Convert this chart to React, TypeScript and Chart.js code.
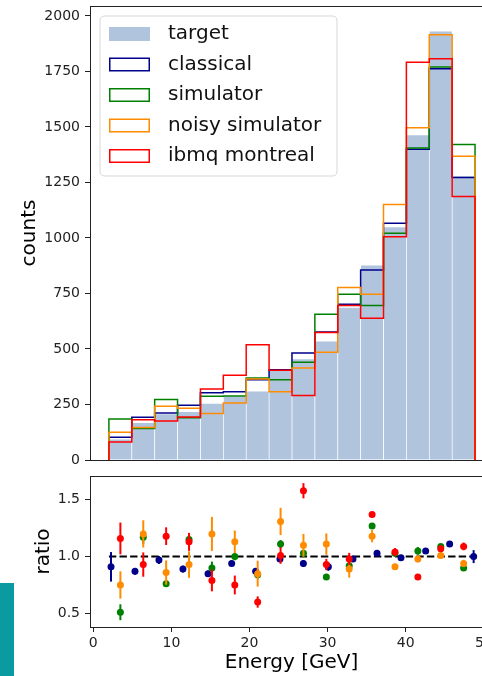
import React, { useEffect, useRef } from "react";
import { Chart, registerables } from "chart.js";

Chart.register(...registerables);

const FONT = "'DejaVu Sans', 'Liberation Sans', sans-serif";

// ---------- data ----------
const binEdges = [2.0, 4.93, 7.86, 10.79, 13.72, 16.65, 19.58, 22.51, 25.44, 28.37, 31.3, 34.23, 37.16, 40.09, 43.02, 45.95, 48.88];
const binCenters = [3.47, 6.4, 9.33, 12.26, 15.19, 18.12, 21.05, 23.98, 26.91, 29.84, 32.77, 35.7, 38.63, 41.56, 44.49, 47.42];

const seriesNames = ["target", "classical", "simulator", "noisy simulator", "ibmq montreal"];

const targetCounts = [94, 168, 208, 218, 255, 288, 310, 403, 455, 535, 688, 878, 1050, 1465, 1932, 1280];
const classicalCounts = [103, 193, 212, 247, 303, 307, 362, 407, 482, 577, 702, 856, 1066, 1400, 1762, 1273];
const simulatorCounts = [185, 142, 272, 190, 287, 288, 369, 362, 440, 656, 747, 696, 1021, 1405, 1770, 1421];
const noisyCounts = [125, 146, 242, 233, 210, 257, 365, 307, 414, 485, 777, 747, 1151, 1497, 1915, 1368];
const ibmqCounts = [81, 181, 176, 194, 320, 382, 519, 404, 290, 574, 696, 639, 1006, 1792, 1807, 1187];

const classicalX = [2.27, 5.34, 8.41, 11.48, 14.69, 17.72, 20.79, 23.9, 26.9, 30.1, 33.25, 36.33, 39.4, 42.56, 45.63, 48.7];
const classicalRatio = [0.91, 0.87, 0.97, 0.89, 0.85, 0.94, 0.87, 0.98, 0.94, 0.91, 0.98, 1.03, 0.99, 1.05, 1.11, 1.0];
const classicalErr = [0.13, 0.03, 0.035, 0.03, 0.026, 0.026, 0.03, 0.026, 0.03, 0.035, 0.026, 0.026, 0.02, 0.02, 0.02, 0.057];

const simulatorRatio = [0.51, 1.17, 0.76, 1.15, 0.9, 1.0, 0.84, 1.11, 1.03, 0.82, 0.92, 1.27, 1.03, 1.05, 1.09, 0.9];
const simulatorErr = [0.07, 0.058, 0.026, 0.04, 0.056, 0.032, 0.034, 0.035, 0.03, 0.026, 0.032, 0.023, 0.03, 0.034, 0.018, 0.018];

const noisyRatio = [0.75, 1.2, 0.86, 0.93, 1.2, 1.13, 0.85, 1.31, 1.1, 1.11, 0.89, 1.18, 0.91, 0.98, 1.01, 0.94];
const noisyErr = [0.12, 0.12, 0.107, 0.117, 0.15, 0.1, 0.114, 0.12, 0.1, 0.094, 0.075, 0.054, 0.026, 0.03, 0.025, 0.032];

const ibmqRatio = [1.16, 0.93, 1.18, 1.13, 0.79, 0.75, 0.6, 1.01, 1.58, 0.93, 0.98, 1.37, 1.04, 0.82, 1.07, 1.09];
const ibmqErr = [0.14, 0.107, 0.078, 0.079, 0.096, 0.083, 0.05, 0.073, 0.067, 0.05, 0.053, 0.02, 0.035, 0.023, 0.03, 0.034];

const countTicks = [0, 250, 500, 750, 1000, 1250, 1500, 1750, 2000];
const ratioTicks = [0.5, 1.0, 1.5];
const energyTicks = [0, 10, 20, 30, 40, 50];

// ---------- styles ----------
const C_TARGET = "#b0c4de";
const C_CLASSICAL = "#00008b";
const C_SIM = "#008000";
const C_NOISY = "#ff8c00";
const C_IBMQ = "#ff0000";
const legendColors = [C_TARGET, C_CLASSICAL, C_SIM, C_NOISY, C_IBMQ];

const X_MIN = -0.42;
const X_MAX = 51.18;
const COUNT_MAX = 2045;
const RATIO_MIN = 0.38;
const RATIO_MAX = 1.71;
const AXIS_COLOR = "#222";

const stepOutline = (vals: number[]) => {
  const pts: { x: number; y: number }[] = [{ x: binEdges[0], y: 0 }];
  vals.forEach((v, i) => {
    pts.push({ x: binEdges[i], y: v });
    pts.push({ x: binEdges[i + 1], y: v });
  });
  pts.push({ x: binEdges[binEdges.length - 1], y: 0 });
  return pts;
};

const framePlugin = {
  id: "frame",
  afterDatasetsDraw(chart: any) {
    const { ctx, chartArea: a } = chart;
    ctx.save();
    ctx.strokeStyle = AXIS_COLOR;
    ctx.lineWidth = 1;
    ctx.strokeRect(Math.round(a.left) + 0.5, Math.round(a.top) + 0.5, Math.round(a.right - a.left), Math.round(a.bottom - a.top));
    ctx.restore();
  },
};

const legendPlugin = {
  id: "mplLegend",
  afterDraw(chart: any) {
    const { ctx, chartArea: a } = chart;
    const bx = a.left + 10;
    const by = a.top + 10;
    const bw = 237;
    const bh = 160;
    const r = 5;
    ctx.save();
    ctx.beginPath();
    ctx.moveTo(bx + r, by);
    ctx.lineTo(bx + bw - r, by);
    ctx.quadraticCurveTo(bx + bw, by, bx + bw, by + r);
    ctx.lineTo(bx + bw, by + bh - r);
    ctx.quadraticCurveTo(bx + bw, by + bh, bx + bw - r, by + bh);
    ctx.lineTo(bx + r, by + bh);
    ctx.quadraticCurveTo(bx, by + bh, bx, by + bh - r);
    ctx.lineTo(bx, by + r);
    ctx.quadraticCurveTo(bx, by, bx + r, by);
    ctx.closePath();
    ctx.fillStyle = "rgba(255,255,255,0.8)";
    ctx.fill();
    ctx.strokeStyle = "rgba(204,204,204,0.8)";
    ctx.lineWidth = 1;
    ctx.stroke();

    ctx.font = `20px ${FONT}`;
    ctx.textBaseline = "middle";
    ctx.textAlign = "left";
    seriesNames.forEach((name, i) => {
      const cy = by + 18 + i * 30.5;
      const px = bx + 9;
      if (i === 0) {
        ctx.fillStyle = legendColors[0];
        ctx.fillRect(px, cy - 7, 41, 14);
      } else {
        ctx.strokeStyle = legendColors[i];
        ctx.lineWidth = 1.5;
        ctx.strokeRect(px + 0.75, cy - 6.25, 39.5, 12.5);
      }
      ctx.fillStyle = "#111";
      ctx.fillText(name, bx + 68, cy);
    });
    ctx.restore();
  },
};

const errorBarPlugin = {
  id: "errorBars",
  beforeDatasetDraw(chart: any, args: any) {
    const ds: any = chart.data.datasets[args.index];
    if (!ds.errorBars) return;
    const xs = chart.scales.x;
    const ys = chart.scales.y;
    const ctx = chart.ctx;
    ctx.save();
    ctx.strokeStyle = ds.pointBackgroundColor;
    ctx.lineWidth = 2;
    ds.data.forEach((p: any, i: number) => {
      const e = ds.errorBars[i];
      const x = xs.getPixelForValue(p.x);
      ctx.beginPath();
      ctx.moveTo(x, ys.getPixelForValue(p.y - e));
      ctx.lineTo(x, ys.getPixelForValue(p.y + e));
      ctx.stroke();
    });
    ctx.restore();
  },
};

const tickFont = { family: FONT, size: 14 };
const titleFont = { family: FONT, size: 20 };

export default function App() {
  const topRef = useRef<HTMLCanvasElement>(null);
  const botRef = useRef<HTMLCanvasElement>(null);

  useEffect(() => {
    const stepDs = (label: string, vals: number[], color: string, order: number) => ({
      type: "line",
      label,
      data: stepOutline(vals),
      borderColor: color,
      backgroundColor: color,
      borderWidth: 1.5,
      pointRadius: 0,
      fill: false,
      tension: 0,
      order,
    });

    const top = new Chart(topRef.current as HTMLCanvasElement, {
      type: "bar",
      data: {
        datasets: [
          {
            type: "bar",
            label: seriesNames[0],
            data: binCenters.map((x, i) => ({ x, y: targetCounts[i] })),
            backgroundColor: C_TARGET,
            borderColor: "#ffffff",
            borderWidth: { left: 0.7, right: 0.7, top: 0.7, bottom: 0 },
            barPercentage: 1,
            categoryPercentage: 1,
            order: 10,
          },
          stepDs(seriesNames[1], classicalCounts, C_CLASSICAL, 4),
          stepDs(seriesNames[2], simulatorCounts, C_SIM, 3),
          stepDs(seriesNames[3], noisyCounts, C_NOISY, 2),
          stepDs(seriesNames[4], ibmqCounts, C_IBMQ, 1),
        ] as any,
      },
      options: {
        responsive: false,
        animation: false,
        events: [],
        layout: { padding: { top: 36, bottom: 10, left: 0, right: 7 } },
        plugins: { legend: { display: false }, tooltip: { enabled: false } },
        scales: {
          x: { type: "linear", min: X_MIN, max: X_MAX, display: false, offset: false },
          y: {
            type: "linear",
            min: 0,
            max: COUNT_MAX,
            afterBuildTicks: (s: any) => {
              s.ticks = countTicks.map((v) => ({ value: v }));
            },
            afterFit: (s: any) => {
              s.width = 90;
              s.paddingTop = 0;
              s.paddingBottom = 0;
            },
            ticks: { font: tickFont, color: AXIS_COLOR, padding: 5, autoSkip: false, callback: (v: any) => String(v) },
            grid: { display: true, drawOnChartArea: false, drawTicks: true, tickLength: 5, tickColor: AXIS_COLOR, tickWidth: 1 },
            border: { display: false },
            title: { display: true, text: "counts", font: titleFont, color: "#000", padding: { top: 17.5, bottom: 0 } },
          },
        },
      } as any,
      plugins: [framePlugin, legendPlugin],
    });

    const ratioDs = (label: string, xs: number[], ys: number[], errs: number[], color: string, order: number) => ({
      type: "line",
      label,
      data: xs.map((x, i) => ({ x, y: ys[i] })),
      showLine: false,
      pointRadius: 3.5,
      pointBorderWidth: 0,
      pointBackgroundColor: color,
      borderColor: color,
      backgroundColor: color,
      errorBars: errs,
      order,
    });

    const bottom = new Chart(botRef.current as HTMLCanvasElement, {
      type: "line",
      data: {
        datasets: [
          {
            label: "unity",
            data: [
              { x: binEdges[0], y: 1 },
              { x: binEdges[binEdges.length - 1], y: 1 },
            ],
            borderColor: "#000",
            borderWidth: 2,
            borderDash: [7.4, 3.2],
            pointRadius: 0,
            fill: false,
            order: 10,
          },
          ratioDs(seriesNames[1], classicalX, classicalRatio, classicalErr, C_CLASSICAL, 4),
          ratioDs(seriesNames[2], binCenters, simulatorRatio, simulatorErr, C_SIM, 3),
          ratioDs(seriesNames[3], binCenters, noisyRatio, noisyErr, C_NOISY, 2),
          ratioDs(seriesNames[4], binCenters, ibmqRatio, ibmqErr, C_IBMQ, 1),
        ] as any,
      },
      options: {
        responsive: false,
        animation: false,
        events: [],
        layout: { padding: { top: 10, bottom: 0, left: 0, right: 7 } },
        plugins: { legend: { display: false }, tooltip: { enabled: false } },
        scales: {
          x: {
            type: "linear",
            min: X_MIN,
            max: X_MAX,
            offset: false,
            afterBuildTicks: (s: any) => {
              s.ticks = energyTicks.map((v) => ({ value: v }));
            },
            afterFit: (s: any) => {
              s.height = 49;
              s.paddingLeft = 0;
              s.paddingRight = 0;
            },
            ticks: { font: tickFont, color: AXIS_COLOR, padding: 3, autoSkip: false, maxRotation: 0, minRotation: 0, callback: (v: any) => String(v) },
            grid: { display: true, drawOnChartArea: false, drawTicks: true, tickLength: 5, tickColor: AXIS_COLOR, tickWidth: 1 },
            border: { display: false },
            title: { display: true, text: "Energy [GeV]", font: titleFont, color: "#000", padding: { top: 0, bottom: 1 } },
          },
          y: {
            type: "linear",
            min: RATIO_MIN,
            max: RATIO_MAX,
            afterBuildTicks: (s: any) => {
              s.ticks = ratioTicks.map((v) => ({ value: v }));
            },
            afterFit: (s: any) => {
              s.width = 90;
              s.paddingTop = 0;
              s.paddingBottom = 0;
            },
            ticks: { font: tickFont, color: AXIS_COLOR, padding: 5, autoSkip: false, callback: (v: any) => Number(v).toFixed(1) },
            grid: { display: true, drawOnChartArea: false, drawTicks: true, tickLength: 5, tickColor: AXIS_COLOR, tickWidth: 1 },
            border: { display: false },
            title: { display: true, text: "ratio", font: titleFont, color: "#000", padding: { top: 31.8, bottom: 0 } },
          },
        },
      } as any,
      plugins: [errorBarPlugin, framePlugin],
    });

    return () => {
      top.destroy();
      bottom.destroy();
    };
  }, []);

  return (
    <div style={{ position: "absolute", left: 0, top: 0, width: 482, height: 676, overflow: "hidden", background: "#fff" }}>
      <canvas ref={topRef} width={500} height={500} style={{ position: "absolute", left: 0, top: -30, width: 500, height: 500, display: "block" }} />
      <canvas ref={botRef} width={500} height={210} style={{ position: "absolute", left: 0, top: 466, width: 500, height: 210, display: "block" }} />
      <div style={{ position: "absolute", left: 0, top: 583, width: 14, height: 93, background: "#0a9ba0" }} />
    </div>
  );
}
